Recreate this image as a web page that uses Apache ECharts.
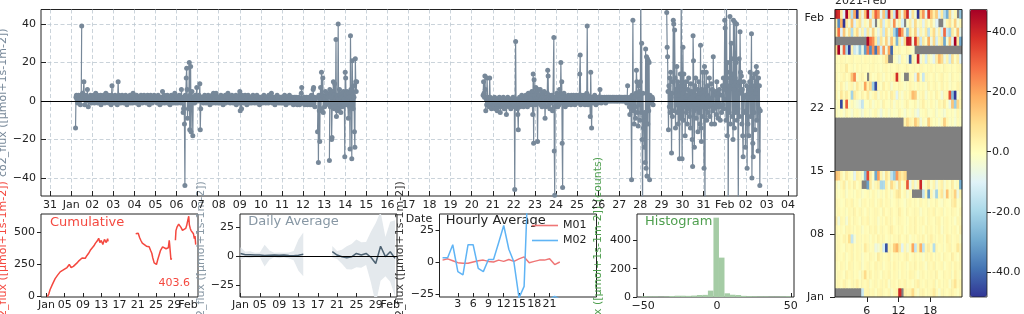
<!DOCTYPE html>
<html><head><meta charset="utf-8">
<script src="https://cdn.jsdelivr.net/npm/echarts@6/dist/echarts.min.js"></script>
<style>html,body{margin:0;padding:0;background:#fff}#c{width:1024px;height:314px}</style>
</head><body><div id="c"></div>
<script>
// ---------- DATA ----------
// co2 flux, one string per day (Jan 01 .. Feb 02), 48 half-hour values, "-" = missing
const NO_DATA = "- - - - - - - - - - - - | - - - - - - - - - - - - | - - - - - - - - - - - - | - - - - - - - - - - - -";
const FLUX_DAYS = [
 "- - - - - - - - - - -14 2 | 3 1 2 -1 2 3 1 0 2 -2 1 3 | 39 - 4 2 3 10 1 -2 2 3 0 1 | 2 6 1 -3 2 1 0 2 3 1 -1 2", // Jan 01
 "1 2 0 3 1 -1 2 1 4 0 2 1 | 3 -1 1 2 0 2 1 3 -2 1 2 0 | 2 1 3 0 1 -1 2 4 1 0 2 1 | 1 3 -1 2 0 1 2 -2 3 8 1 2",
 "0 2 1 -1 3 1 2 0 1 -2 2 10 | 1 3 0 2 1 -1 2 1 3 0 2 1 | -1 2 1 0 3 2 1 -2 1 2 0 1 | 2 1 3 -1 0 2 1 2 -1 4 1 0",
 "1 0 2 1 -1 3 2 0 1 2 -2 1 | 2 1 0 3 1 2 -1 1 2 0 3 1 | 0 2 1 -1 2 1 3 0 2 1 -2 2 | 1 3 0 1 2 -1 1 2 0 3 1 2",
 "2 1 0 2 -1 1 3 0 2 1 -2 1 | 0 2 1 -1 5 2 0 1 3 -1 2 1 | 1 0 2 3 -1 1 2 0 1 -2 2 1 | 3 0 1 2 -1 2 1 0 4 1 -1 2", // Jan 05
 "1 2 0 -1 2 1 3 0 2 1 -1 6 | 2 0 1 -6 -4 2 -12 -44 3 1 12 17 | 6 -9 2 -4 1 20 -15 3 18 -16 2 5 | 1 -18 2 0 1 -1 2 3 0 1 7 2",
 "1 2 0 3 1 9 -15 -4 2 1 0 2 | 1 -1 2 0 3 1 2 -1 1 0 2 1 | 3 0 1 2 -2 1 0 2 1 3 -1 2 | 4 1 0 2 1 -1 4 2 0 1 2 -1",
 "2 0 1 -1 2 3 1 0 2 1 -2 1 | 0 2 1 3 -1 2 1 0 2 4 1 0 | 1 2 -1 0 2 1 3 0 1 -1 2 1 | 2 0 1 3 -2 1 2 0 1 2 -1 3",
 "5 -5 2 1 -4 3 0 2 1 -1 2 1 | 3 0 1 2 -2 1 0 3 1 2 -1 1 | 2 1 0 -1 2 1 3 0 1 2 -1 2 | 1 0 2 3 -1 1 2 0 1 -2 2 1",
 "1 2 0 1 -1 2 1 3 0 2 1 -1 | 2 0 1 2 1 -1 3 0 1 2 0 1 | 4 1 -1 2 0 1 2 1 -2 1 0 2 | 1 3 0 1 2 -1 1 0 2 1 -1 2", // Jan 10
 "2 1 -1 0 2 1 3 0 1 -2 1 2 | 0 1 2 -1 1 3 0 2 1 -1 0 2 | 1 0 -2 1 2 0 1 -1 2 0 1 -2 | 1 0 2 -1 -2 1 0 -1 4 7 -1 0",
 "1 -1 0 2 -2 1 0 -1 2 1 -2 0 | 1 -1 2 0 -2 1 -1 3 0 -2 1 6 | 7 -1 2 -3 1 - - - - -16 2 -32 | 3 -5 -21 2 7 -4 15 1 3 12 -6 2",
 "2 -3 1 5 -2 3 0 4 -1 2 - - | -31 6 -3 2 4 -20 -19 5 -2 10 3 -4 | 9 -3 2 32 -8 3 -5 2 40 -4 1 6 | -2 3 -6 1 4 -3 2 -1 5 -2 1 -29",
 "15 12 3 -2 5 1 -1 -9 4 2 -3 -25 | 34 6 -2 -30 21 3 -4 8 2 -16 -24 22 | 10 5 10 - - - - - - - - - | - - - - - - - - - - - -",
 NO_DATA, NO_DATA, NO_DATA, NO_DATA, NO_DATA, // Jan 15 .. Jan 19
 "- - - - - - - - - - - - | - - - - - - - - - - - - | - - 3 10 4 2 13 6 -5 1 -2 12 | 2 -1 0 -3 1 12 2 -2 0 -4 1 -1", // Jan 20
 "1 -2 0 -3 2 -1 -4 0 1 -2 -5 1 | -1 -3 0 2 -2 -6 -1 1 -3 0 -2 -1 | 2 -1 -4 0 -2 1 -3 -7 -1 0 2 -2 | -1 1 -3 0 -2 -4 1 -1 0 -3 2 -1",
 "-2 1 -46 0 31 -3 1 -2 -4 -7 -15 0 | -1 2 -3 0 1 -2 3 0 -1 2 -3 1 | 0 -2 1 3 -1 0 2 -3 1 4 0 -1 | 2 0 -2 3 1 5 -1 -7 14 -22 11 2",
 "3 -2 7 1 5 0 -21 6 2 -1 3 0 | 6 -2 1 4 -3 2 0 3 -1 5 2 -9 | 1 -3 2 0 4 16 13 -2 1 3 -4 0 | 2 -1 3 0 -5 1 2 33 -26 -49 -3 2",
 "2 -1 4 0 -3 1 3 -2 6 1 -1 20 | 3 10 -22 -45 2 -1 4 0 2 -3 1 0 | 2 1 -2 0 3 1 -1 2 0 1 -2 3 | 0 2 1 -1 3 0 2 -2 1 0 3 1",
 "2 -1 1 3 0 2 14 24 -2 1 3 0 | - 2 -1 0 3 1 -2 2 0 1 4 39 | 3 -2 - - 2 0 -8 15 -1 -14 2 1 | 0 2 -1 1 3 0 1 -2 2 0 1 -1", // Jan 25
 "1 0 2 1 6 0 1 -1 2 0 1 1 | 0 1 2 0 1 -1 1 2 0 1 0 2 | 1 0 1 2 0 1 1 0 2 1 0 1 | 2 0 1 1 0 2 1 0 1 0 2 1",
 "1 0 2 1 0 1 2 0 1 1 0 2 | 1 0 2 1 0 -1 2 8 - - 1 -3 | -7 2 0 -4 -41 3 -2 42 -5 1 -12 2 | -3 -9 4 16 10 -6 3 -13 8 -2 5 -10",
 "10 55 -6 30 -20 -55 4 -14 -8 -24 -6 -32 | 27 -35 23 -39 22 -12 21 -5 20 -41 3 1 | 2 -1 0 2 1 -2 - - - - - - | - - - - - - - - - - - -",
 "- - - - - - - - - - - - | 46 28 23 5 -15 8 -3 12 -6 15 2 -27 | 4 -8 10 42 40 -5 37 12 -14 6 -2 18 | -6 10 -12 3 8 -30 -4 14 -9 55 6 -30",
 "4 28 -10 14 -3 8 -18 2 10 -6 3 -12 | 6 -4 12 -2 -8 4 -14 9 -3 5 -20 -34 | 34 21 -5 -24 8 -2 12 -9 3 -4 6 -16 | 2 10 -6 4 -12 29 -14 -21 6 -3 15 -8", // Jan 30
 "5 -35 18 -55 6 -4 15 -10 3 8 -6 2 | -3 12 -8 - -2 9 -12 1 6 -5 23 -4 | 3 -12 - -2 5 -7 10 -3 2 -9 4 -1 | 6 -3 -10 - - -6 3 8 -2 12 -4 1",
 "42 38 6 -10 55 12 -18 20 -55 8 -6 15 | 44 -12 10 30 22 -8 14 -20 42 6 -14 41 | 12 -6 20 40 -10 8 -4 -55 10 22 -8 36 | 15 4 13 -12 6 -18 -29 10 -6 2 - -24", // Feb 01
 "3 -5 8 -35 2 -12 6 -18 4 10 15 -8 | 6 35 -40 12 -22 -29 8 -6 14 -15 4 10 | 18 -10 15 6 -26 12 -4 8 -44 -5 - - | - - - - - - - - - - - -"  // Feb 02
];
const HEAT_DAYS = 32; // heatmap rows Jan 01 .. Feb 01

// cumulative (days since Jan 01 00:00)
const CUM_DAY = [0.21,0.5,0.8,1.3,1.9,2.4,3.0,3.6,4.0,4.5,5.0,5.2,5.4,5.6,5.9,6.3,6.7,7.1,7.4,7.8,8.1,8.5,8.8,9.2,9.6,10.0,10.4,10.7,11.1,11.44,11.7,11.8,12.0,12.18,12.35,12.5,12.7,12.91,13.1,13.29,13.4,13.5,
 16,
 19.55,19.8,20.1,20.4,20.66,21.0,21.4,21.9,22.2,22.5,22.8,23.08,23.3,23.6,23.9,24.1,24.4,24.7,25.0,25.44,25.8,26.2,26.54,26.7,26.9,27.0,27.27,27.4,
 27.8,
 28.25,28.37,28.6,28.97,29.2,29.47,29.8,30.2,30.5,30.7,30.95,31.17,31.3,31.5,31.68,31.9,32.2,32.4,32.55,32.7];
const CUM_VAL = [0,20,55,95,140,165,192,205,215,226,250,262,225,210,235,246,262,278,286,300,312,298,316,335,360,375,395,414,432,453,420,412,436,442,405,400,445,452,420,412,450,430,
 null,
 488,500,493,460,438,415,400,392,395,387,360,337,300,262,255,250,290,325,360,387,380,372,375,380,438,400,287,300,
 null,
 438,513,540,563,548,538,515,500,530,550,590,625,560,530,513,500,488,450,470,404];
const CUM_TOTAL = '403.6';

// daily average and spread
const DAILY_DAY  = [0,1,2,3,4,5,6,7,8,9,10,11,12,13,14,15,16,17,18,19,20,21,22,23,24,25,26,27,28,29,30,31,32];
const DAILY_MEAN = [2.2,1.2,1.1,0.9,1.0,0.4,0.8,0.9,0.7,0.9,0.5,0.3,0.8,1.5,null,null,null,null,null,3.8,0.9,-0.6,-1.5,-0.6,2.3,0.9,2.3,-1.0,-6.4,8.5,-0.5,3.8,-2.0];
const DAILY_STD  = [5.5,2.5,3,2,2,9.5,4,2,2.5,2,2.5,4,13.5,19,null,null,null,null,null,5,3.5,6,10,11,12,11,10,22,35,30,17,26,33];

// hourly average
const HOURS = [0,1,2,3,4,5,6,7,8,9,10,11,12,13,14,15,16,17,18,19,20,21,22,23];
const M01 = [1.5,2.5,1,-0.5,-1,-1,0,1,1.5,0.5,0,1.5,0.5,2,0.5,2.5,4,-0.5,0.5,1.5,1.5,2.5,-2,0];
const M02 = [3.4,3.4,13.5,-7.5,-10,13.5,13.5,-5,-7.5,2,2,15,28.5,10,0,-28,-19,90,null,null,null,-29,-26.8,-29];

// histogram
const HIST_EDGES = [-51.15,-47.4,-43.65,-39.9,-36.15,-32.4,-28.65,-24.9,-21.15,-17.4,-13.65,-9.9,-6.15,-2.4,1.35,5.1,8.85,12.6,16.35,20.1,23.85,27.6,31.35,35.1,38.85,42.6,46.35,50.1];
const HIST_COUNTS = [5,4,4,3,4,7,9,9,8,10,14,15,45,560,278,26,16,14,8,6,5,4,4,3,3,4,5];

// ticks
const MAIN_X_TICKS = [-1,0,1,2,3,4,5,6,7,8,9,10,11,12,13,14,15,16,17,18,19,20,21,22,23,24,25,26,27,28,29,30,31,32,33,34];
const MAIN_X_LABELS = ['31','Jan','02','03','04','05','06','07','08','09','10','11','12','13','14','15','16','17','18','19','20','21','22','23','24','25','26','27','28','29','30','31','Feb','02','03','04'];
const MAIN_Y_TICKS = [-40,-20,0,20,40];
const SUB_X_TICKS = [0,4,8,12,16,20,24,28];
const SUB_X_LABELS = ['Jan','05','09','13','17','21','25','29'];
const SUB_X_TICKS_2 = [31];
const SUB_X_LABELS_2 = ['Feb'];
const CUM_Y_TICKS = [0,250,500];
const AVG_Y_TICKS = [-25,0,25];
const HOUR_TICKS = [3,6,9,12,15,18,21];
const HIST_X_TICKS = [-50,0,50];
const HIST_Y_TICKS = [0,200,400];
const HEAT_X_TICKS = [6,12,18];
const HEAT_Y_TICKS = [0,7,14,21,31];
const HEAT_Y_LABELS = ['Jan','08','15','22','Feb'];
const CBAR_TICKS = [-40,-20,0,20,40];
const YLABEL = 'co2_flux ([\u03bcmol+1s-1m-2])';

// ---------- BUILD ----------
const FONT = 'DejaVu Sans';
const INK = '#222';
const RED = '#f4483f', SLATE = '#778899', GREEN = '#4f9f4f';
function parseDay(s){ return s.split(/\s+/).filter(t => t && t !== '|').map(t => t === '-' ? null : Number(t)); }
const flux = FLUX_DAYS.map(parseDay);
flux.forEach((r,i)=>{ if (r.length !== 48) console.error('day', i, 'has', r.length); });
const mainData = [];
flux.forEach((vals, d) => vals.forEach((v, i) => mainData.push([d + i / 48, v])));
const heatData = [];
for (let d = 0; d < HEAT_DAYS; d++) flux[d].forEach((v, i) => { if (v !== null) heatData.push([i, d, v]); });
const cumData = CUM_DAY.map((d, i) => [d, CUM_VAL[i]]);
const dailyData = DAILY_DAY.map((d, i) => [d, DAILY_MEAN[i]]);
const runs = []; let rs = null;
DAILY_DAY.forEach((d, i) => { if (DAILY_MEAN[i] != null) { if (rs === null) rs = i; } else if (rs !== null) { runs.push([rs, i - 1]); rs = null; } });
if (rs !== null) runs.push([rs, DAILY_DAY.length - 1]);
const histData = HIST_COUNTS.map((c, i) => [HIST_EDGES[i], HIST_EDGES[i + 1], c]);

const minus = v => v < 0 ? '\u2212' + Math.abs(v) : String(v);
const lookup = (ticks, labels) => v => { const i = ticks.findIndex(t => Math.abs(t - v) < 1e-6); return i >= 0 ? labels[i] : ''; };

function ax(gi, min, max, ticks, fmt, o) {
  o = o || {};
  const a = {
    gridIndex: gi, type: 'value', min: min, max: max,
    axisLine: { show: false, onZero: false },
    axisTick: { show: true, inside: !!o.inside, length: o.tickLen || 4, customValues: ticks, lineStyle: { color: INK, width: 1 } },
    axisLabel: { show: true, customValues: ticks, formatter: fmt, color: INK, fontSize: 11, fontFamily: FONT, hideOverlap: false,
                 showMinLabel: true, showMaxLabel: true, margin: o.margin == null ? 5 : o.margin },
    splitLine: { show: false },
    nameMoveOverlap: false
  };
  if (o.position) a.position = o.position;
  if (o.name) {
    a.name = o.name; a.nameLocation = 'middle'; a.nameGap = o.nameGap; a.nameRotate = o.nameRotate;
    a.nameTextStyle = { color: o.nameColor || INK, fontSize: 11, fontFamily: FONT };
  }
  if (o.split) a.splitLine = { show: true, lineStyle: { type: [4, 2.5], color: '#bcc8d1', width: 0.8 } };
  return a;
}
const gridBase = { show: true, borderColor: INK, borderWidth: 1, backgroundColor: 'transparent', containLabel: false, outerBoundsMode: 'none' };
const G = (l, t, w, h, extra) => Object.assign({}, gridBase, { left: l, top: t, width: w, height: h }, extra || {});
const BT = 214, BH = 83, BW = 157;
const CUM_XR = [-1.2, 33.2], AVG_XR = [-0.1, 32.4];

const option = {
  animation: false,
  backgroundColor: '#fff',
  textStyle: { fontFamily: FONT },
  grid: [
    G(41, 9.5, 756, 186.5),           // 0 main
    G(41, BT, BW, BH),                // 1 cumulative
    G(240, BT, BW, BH),               // 2 daily
    G(439.5, BT, BW, BH),             // 3 hourly
    G(637, BT, BW, BH),               // 4 histogram
    G(835, 9.5, 127, 287.5, { borderWidth: 0, backgroundColor: '#808080' }), // 5 heatmap
    G(835, 9.5, 127, 287.5, { z: 5 }), // 6 heatmap axes
    G(970, 9.5, 17, 287.5, { z: 6, borderWidth: 0.8 }) // 7 colorbar axes
  ],
  xAxis: [
    ax(0, -1.43, 34.43, MAIN_X_TICKS, lookup(MAIN_X_TICKS, MAIN_X_LABELS), { inside: true, tickLen: 5, margin: 3.5, split: true, name: 'Date', nameGap: 18, nameRotate: 0 }),
    ax(1, CUM_XR[0], CUM_XR[1], SUB_X_TICKS, lookup(SUB_X_TICKS, SUB_X_LABELS), { inside: true, margin: 3, position: 'bottom' }),
    ax(2, AVG_XR[0], AVG_XR[1], SUB_X_TICKS, lookup(SUB_X_TICKS, SUB_X_LABELS), { inside: true, margin: 3, position: 'bottom' }),
    ax(3, -0.6, 30.2, HOUR_TICKS, v => String(v), { inside: true, margin: 2 }),
    ax(4, -54.2, 52.2, HIST_X_TICKS, minus, { inside: true, margin: 3.5 }),
    { gridIndex: 5, type: 'category', data: Array.from({ length: 48 }, (_, i) => i), show: false },
    ax(6, 0, 24, HEAT_X_TICKS, v => String(v), { tickLen: 5, margin: 9 }),
    { gridIndex: 7, type: 'value', min: 0, max: 1, show: false },
    ax(1, CUM_XR[0], CUM_XR[1], SUB_X_TICKS_2, lookup(SUB_X_TICKS_2, SUB_X_LABELS_2), { inside: true, margin: 3, position: 'bottom' }),
    ax(2, AVG_XR[0], AVG_XR[1], SUB_X_TICKS_2, lookup(SUB_X_TICKS_2, SUB_X_LABELS_2), { inside: true, margin: 3, position: 'bottom' })
  ],
  yAxis: [
    ax(0, -49.4, 47.6, MAIN_Y_TICKS, minus, { inside: true, tickLen: 5, margin: 5, split: true, name: YLABEL, nameGap: 32.5, nameRotate: 90, nameColor: SLATE }),
    ax(1, -3, 642, CUM_Y_TICKS, v => String(v), { margin: 6, name: YLABEL, nameGap: 32.5, nameRotate: 90, nameColor: RED }),
    ax(2, -35.5, 36.5, AVG_Y_TICKS, minus, { margin: 6, name: YLABEL, nameGap: 33, nameRotate: 90, nameColor: '#8797a4' }),
    ax(3, -27.3, 37.5, AVG_Y_TICKS, minus, { margin: 5.5, name: YLABEL, nameGap: 34, nameRotate: 90, nameColor: '#333' }),
    ax(4, 0, 586, HIST_Y_TICKS, v => String(v), { margin: 6, name: YLABEL + ' (counts)', nameGap: 33, nameRotate: 90, nameColor: GREEN }),
    { gridIndex: 5, type: 'category', data: Array.from({ length: HEAT_DAYS }, (_, i) => i), show: false },
    ax(6, 0, 32, HEAT_Y_TICKS, lookup(HEAT_Y_TICKS, HEAT_Y_LABELS), { tickLen: 5, margin: 11 }),
    ax(7, -48.4, 47.4, CBAR_TICKS, v => v.toFixed(1), { tickLen: 4, margin: 5, position: 'right' })
  ],
  visualMap: [{
    type: 'continuous', seriesIndex: 7, min: -48.4, max: 47.4, calculable: false,
    orient: 'vertical', left: 970, top: 9.5, itemWidth: 17, itemHeight: 287.5, padding: 0,
    text: null, hoverLink: false, z: 4,
    inRange: { color: ['#313695', '#4575b4', '#74add1', '#abd9e9', '#e0f3f8', '#ffffbf', '#fee090', '#fdae61', '#f46d43', '#d73027', '#a50026'] }
  }],
  legend: {
    data: ['M01', 'M02'], left: 532, top: 220, orient: 'vertical', icon: 'rect',
    itemWidth: 26, itemHeight: 1.6, itemGap: 4, padding: 0,
    textStyle: { fontSize: 11, color: INK, fontFamily: FONT }, selectedMode: false
  },
  series: [
    { type: 'line', xAxisIndex: 0, yAxisIndex: 0, data: mainData, showAllSymbol: true, symbol: 'circle', symbolSize: 5,
      itemStyle: { color: SLATE }, lineStyle: { color: SLATE, width: 1.2 }, connectNulls: false, z: 2,
      markLine: { silent: true, symbol: ['none', 'none'], label: { show: false }, lineStyle: { color: '#000', width: 1.2, type: 'solid' }, data: [{ yAxis: 0 }], animation: false } },
    { type: 'line', xAxisIndex: 1, yAxisIndex: 1, data: cumData, symbol: 'none', lineStyle: { color: RED, width: 1.5 }, itemStyle: { color: RED }, connectNulls: false },
    { type: 'custom', xAxisIndex: 2, yAxisIndex: 2, clip: true, data: runs.map(r => [DAILY_DAY[r[0]], 0]),
      renderItem: (params, api) => {
        const r = runs[params.dataIndex]; const up = [], lo = [];
        for (let i = r[0]; i <= r[1]; i++) {
          up.push(api.coord([DAILY_DAY[i], DAILY_MEAN[i] + DAILY_STD[i]]));
          lo.push(api.coord([DAILY_DAY[i], DAILY_MEAN[i] - DAILY_STD[i]]));
        }
        return { type: 'polygon', shape: { points: up.concat(lo.reverse()) }, style: { fill: '#e4e9ed' } };
      } },
    { type: 'line', xAxisIndex: 2, yAxisIndex: 2, data: dailyData, symbol: 'none', lineStyle: { color: '#4d6272', width: 1.5 }, itemStyle: { color: '#4d6272' }, connectNulls: false, z: 3,
      markLine: { silent: true, symbol: ['none', 'none'], label: { show: false }, lineStyle: { color: '#000', width: 1.2, type: 'solid' }, data: [{ yAxis: 0 }], animation: false } },
    { type: 'line', name: 'M01', xAxisIndex: 3, yAxisIndex: 3, data: HOURS.map((h, i) => [h, M01[i]]), symbol: 'none', lineStyle: { color: '#ef7676', width: 1.5 }, itemStyle: { color: '#ef7676' }, connectNulls: false },
    { type: 'line', name: 'M02', xAxisIndex: 3, yAxisIndex: 3, data: HOURS.map((h, i) => [h, M02[i]]), symbol: 'none', lineStyle: { color: '#5fb4f5', width: 1.5 }, itemStyle: { color: '#5fb4f5' }, connectNulls: false },
    { type: 'custom', xAxisIndex: 4, yAxisIndex: 4, clip: true, data: histData, encode: { x: [0, 1], y: 2 },
      renderItem: (params, api) => {
        const p0 = api.coord([api.value(0), api.value(2)]), p1 = api.coord([api.value(1), 0]);
        return { type: 'rect', shape: { x: p0[0], y: p0[1], width: p1[0] - p0[0], height: p1[1] - p0[1] }, style: { fill: '#a5cca5' } };
      } },
    { type: 'heatmap', xAxisIndex: 5, yAxisIndex: 5, data: heatData, progressive: 0, itemStyle: { borderWidth: 0 }, emphasis: { disabled: true } }
  ],
  graphic: [
    { type: 'text', x: 50, y: 222.3, style: { text: 'Cumulative', fill: RED, font: '13px "DejaVu Sans"', align: 'left', verticalAlign: 'middle', textAlign: 'left', textVerticalAlign: 'middle' } },
    { type: 'text', x: 190, y: 283.3, style: { text: CUM_TOTAL, fill: RED, font: '11px "DejaVu Sans"', align: 'right', verticalAlign: 'middle', textAlign: 'right', textVerticalAlign: 'middle' } },
    { type: 'text', x: 248.3, y: 222, style: { text: 'Daily Average', fill: '#8797a4', font: '13px "DejaVu Sans"', align: 'left', verticalAlign: 'middle', textAlign: 'left', textVerticalAlign: 'middle' } },
    { type: 'text', x: 445.7, y: 220.5, style: { text: 'Hourly Average', fill: INK, font: '13px "DejaVu Sans"', align: 'left', verticalAlign: 'middle', textAlign: 'left', textVerticalAlign: 'middle' } },
    { type: 'text', x: 645, y: 222, style: { text: 'Histogram', fill: GREEN, font: '13px "DejaVu Sans"', align: 'left', verticalAlign: 'middle', textAlign: 'left', textVerticalAlign: 'middle' } },
    { type: 'text', x: 835, y: 1.5, style: { text: '2021-Feb', fill: INK, font: '11px "DejaVu Sans"', align: 'left', verticalAlign: 'middle', textAlign: 'left', textVerticalAlign: 'middle' } }
  ]
};
const chart = echarts.init(document.getElementById('c'), null, { renderer: 'canvas', width: 1024, height: 314 });
chart.setOption(option);
</script>
</body></html>
